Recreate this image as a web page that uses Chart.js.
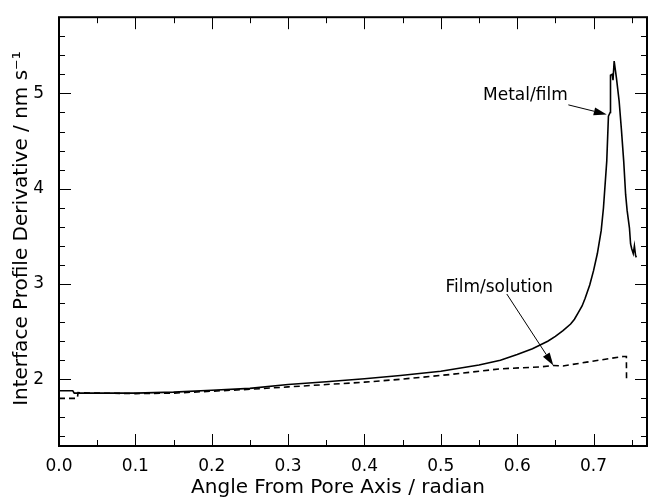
<!DOCTYPE html>
<html>
<head>
<meta charset="utf-8">
<script src="https://cdn.jsdelivr.net/npm/chart.js@4"></script>
<style>
  body { margin: 0; background: #fff; }
</style>
</head>
<body>
<canvas id="myChart" width="648" height="498"></canvas>
<script>
// angle (radian) and derivative (nm/s)
let metalAngle = [0.000, 0.018, 0.020, 0.05, 0.10, 0.15, 0.20, 0.25, 0.30, 0.35, 0.40, 0.447, 0.50, 0.55, 0.578, 0.60, 0.62, 0.63, 0.64, 0.65, 0.66, 0.67, 0.675, 0.68, 0.685, 0.689, 0.695, 0.700, 0.705, 0.710, 0.713, 0.7173, 0.7195, 0.7217, 0.7222, 0.7245, 0.7255, 0.7270, 0.7285, 0.7300, 0.7335, 0.7365, 0.7395, 0.7420, 0.7440, 0.7470, 0.7485, 0.7500, 0.7520, 0.7535, 0.7550, 0.7560]
let metalValue = [1.88, 1.88, 1.855, 1.855, 1.855, 1.865, 1.885, 1.905, 1.945, 1.975, 2.005, 2.04, 2.085, 2.15, 2.20, 2.26, 2.32, 2.36, 2.40, 2.45, 2.51, 2.58, 2.63, 2.70, 2.77, 2.85, 2.99, 3.14, 3.32, 3.56, 3.80, 4.29, 4.76, 4.80, 5.19, 5.20, 5.14, 5.34, 5.25, 5.16, 4.92, 4.62, 4.29, 3.94, 3.77, 3.59, 3.42, 3.37, 3.32, 3.40, 3.30, 3.28]

let filmAngle = [0.000, 0.024, 0.025, 0.05, 0.10, 0.15, 0.20, 0.25, 0.30, 0.35, 0.40, 0.447, 0.512, 0.578, 0.630, 0.647, 0.660, 0.691, 0.739, 0.743, 0.7432]
let filmValue = [1.80, 1.80, 1.86, 1.855, 1.85, 1.855, 1.875, 1.895, 1.92, 1.945, 1.97, 2.00, 2.05, 2.11, 2.13, 2.145, 2.14, 2.18, 2.24, 2.24, 2.00]

let xTicks = [0.0, 0.1, 0.2, 0.3, 0.4, 0.5, 0.6, 0.7]
let yTicks = [2, 3, 4, 5]

let xTitle = 'Angle From Pore Axis / radian'
let yTitle = 'Interface Profile Derivative / nm s⁻¹'

// labels with arrows: text corner and arrow ends in data units
let notes = [
  { text: 'Metal/film', at: [0.5553, 4.93], from: [0.667, 4.88], to: [0.7173, 4.78] },
  { text: 'Film/solution', at: [0.506, 2.92], from: [0.5864, 2.895], to: [0.6474, 2.145] }
]

function toPoints(xs, ys) {
  return xs.map((v, i) => ({ x: v, y: ys[i] }))
}

const font = 'DejaVu Sans'

// box with inward ticks on all four sides
const frameTicks = {
  id: 'frameTicks',
  afterDraw(chart) {
    const { ctx, chartArea: a, scales } = chart
    ctx.save()
    ctx.strokeStyle = '#000'
    ctx.lineWidth = 1
    for (let i = 0; i <= 15; i++) {
      const px = Math.round(scales.x.getPixelForValue(i * 0.05)) + 0.5
      const len = i % 2 === 0 ? 12 : 6
      ctx.beginPath()
      ctx.moveTo(px, a.bottom); ctx.lineTo(px, a.bottom - len)
      ctx.moveTo(px, a.top); ctx.lineTo(px, a.top + len)
      ctx.stroke()
    }
    for (let i = 7; i <= 29; i++) {
      const py = Math.round(scales.y.getPixelForValue(i * 0.2)) + 0.5
      const len = i % 5 === 0 ? 12 : 6
      ctx.beginPath()
      ctx.moveTo(a.left, py); ctx.lineTo(a.left + len, py)
      ctx.moveTo(a.right, py); ctx.lineTo(a.right - len, py)
      ctx.stroke()
    }
    ctx.lineWidth = 2
    ctx.strokeRect(a.left, a.top, a.right - a.left, a.bottom - a.top)

    // axis titles
    ctx.fillStyle = '#000'
    ctx.font = '20px "' + font + '"'
    ctx.textAlign = 'center'
    ctx.textBaseline = 'middle'
    ctx.fillText(xTitle, 338, 488)
    ctx.translate(22, (a.top + a.bottom) / 2 - 3)
    ctx.rotate(-Math.PI / 2)
    ctx.fillText(yTitle, 0, 0)
    ctx.restore()
  }
}

const arrows = {
  id: 'arrows',
  afterDatasetsDraw(chart) {
    const { ctx, scales: { x, y } } = chart
    ctx.save()
    ctx.fillStyle = '#000'
    ctx.strokeStyle = '#000'
    ctx.font = '17px "' + font + '"'
    ctx.textBaseline = 'alphabetic'
    notes.forEach(n => {
      ctx.fillText(n.text, x.getPixelForValue(n.at[0]), y.getPixelForValue(n.at[1]))
      const x0 = x.getPixelForValue(n.from[0]), y0 = y.getPixelForValue(n.from[1])
      const x1 = x.getPixelForValue(n.to[0]), y1 = y.getPixelForValue(n.to[1])
      const ang = Math.atan2(y1 - y0, x1 - x0)
      const hl = 13, hw = 4
      const bx = x1 - hl * Math.cos(ang), by = y1 - hl * Math.sin(ang)
      ctx.lineWidth = 1
      ctx.beginPath()
      ctx.moveTo(x0, y0); ctx.lineTo(bx, by)
      ctx.stroke()
      ctx.beginPath()
      ctx.moveTo(x1, y1)
      ctx.lineTo(bx + hw * Math.sin(ang), by - hw * Math.cos(ang))
      ctx.lineTo(bx - hw * Math.sin(ang), by + hw * Math.cos(ang))
      ctx.closePath()
      ctx.fill()
    })
    ctx.restore()
  }
}

const config = {
  type: 'line',
  data: {
    datasets: [
      {
        label: 'Metal/film',
        data: toPoints(metalAngle, metalValue),
        borderColor: '#000',
        borderWidth: 1.6,
        pointRadius: 0,
        tension: 0
      },
      {
        label: 'Film/solution',
        data: toPoints(filmAngle, filmValue),
        borderColor: '#000',
        borderWidth: 1.6,
        borderDash: [6, 4],
        pointRadius: 0,
        tension: 0
      }
    ]
  },
  options: {
    responsive: false,
    animation: false,
    layout: { padding: { top: 16, right: 1, left: 0, bottom: 0 } },
    plugins: { legend: { display: false }, tooltip: { enabled: false } },
    scales: {
      x: {
        type: 'linear',
        min: 0,
        max: 0.77,
        afterFit: s => { s.height = 52 },
        afterBuildTicks: s => { s.ticks = xTicks.map(v => ({ value: v })) },
        grid: { display: false },
        border: { display: false },
        ticks: {
          color: '#000',
          padding: 2,
          maxRotation: 0,
          font: { family: font, size: 17 },
          callback: v => v.toFixed(1)
        }
      },
      y: {
        min: 1.3,
        max: 5.8,
        afterFit: s => { s.width = 59 },
        afterBuildTicks: s => { s.ticks = yTicks.map(v => ({ value: v })) },
        grid: { display: false },
        border: { display: false },
        ticks: {
          color: '#000',
          padding: 7,
          font: { family: font, size: 17 }
        }
      }
    }
  },
  plugins: [frameTicks, arrows]
}

let myChart = new Chart(document.getElementById('myChart'), config)
</script>
</body>
</html>
